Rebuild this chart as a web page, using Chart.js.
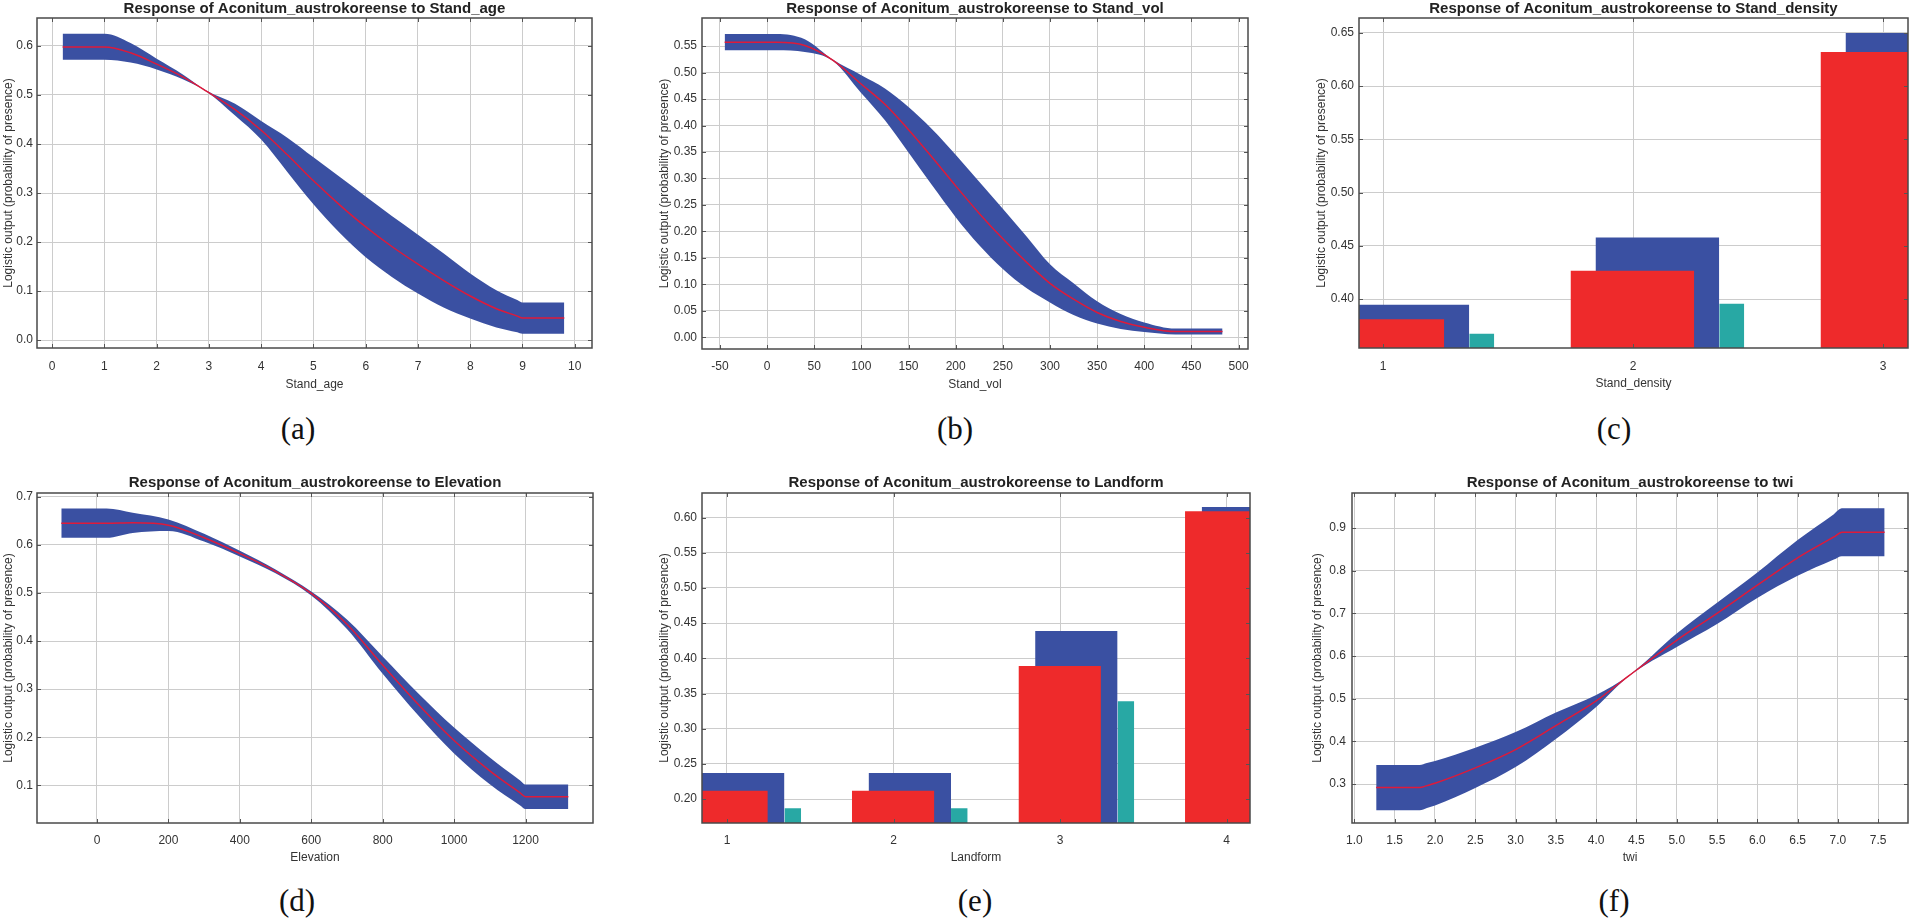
<!DOCTYPE html>
<html>
<head>
<meta charset="utf-8">
<script src="https://cdn.jsdelivr.net/npm/chart.js@4.4.1/dist/chart.umd.min.js"></script>
<style>
  html, body { margin: 0; padding: 0; background: #fff; }
  body { width: 1911px; height: 923px; position: relative; overflow: hidden; }
  canvas { position: absolute; }
  .lab { position: absolute; font-family: "Liberation Serif", "Times New Roman", serif; font-size: 31px; color: #111; transform: translate(-50%, -50%); line-height: 1; }
</style>
</head>
<body>
<canvas id="pa"></canvas>
<canvas id="pb"></canvas>
<canvas id="pc"></canvas>
<canvas id="pd"></canvas>
<canvas id="pe"></canvas>
<canvas id="pf"></canvas>
<div class="lab" style="left:298px;top:428px">(a)</div>
<div class="lab" style="left:955px;top:428px">(b)</div>
<div class="lab" style="left:1614px;top:428px">(c)</div>
<div class="lab" style="left:297px;top:900px">(d)</div>
<div class="lab" style="left:975px;top:900px">(e)</div>
<div class="lab" style="left:1614px;top:900px">(f)</div>
<script>
// (a) Stand_age
const ageX    = [0.2, 1.0, 1.5, 2.0, 2.5, 2.95, 3.5, 4.0, 4.5, 5.0, 5.5, 6.0, 6.5, 7.0, 7.5, 8.0, 8.5, 8.9, 9.0, 9.8];
const ageMean = [0.598, 0.598, 0.586, 0.563, 0.537, 0.508, 0.470, 0.428, 0.378, 0.325, 0.276, 0.231, 0.191, 0.155, 0.121, 0.090, 0.064, 0.049, 0.045, 0.045];
const ageUp   = [0.625, 0.625, 0.606, 0.574, 0.542, 0.509, 0.482, 0.447, 0.413, 0.373, 0.333, 0.293, 0.253, 0.215, 0.176, 0.136, 0.102, 0.082, 0.077, 0.077];
const ageLow  = [0.572, 0.572, 0.566, 0.552, 0.532, 0.507, 0.458, 0.409, 0.343, 0.277, 0.219, 0.169, 0.129, 0.095, 0.066, 0.044, 0.026, 0.016, 0.013, 0.013];
const ageTicksX = [0, 1, 2, 3, 4, 5, 6, 7, 8, 9, 10];
const ageTicksY = [0.0, 0.1, 0.2, 0.3, 0.4, 0.5, 0.6];

// (b) Stand_vol
const volX    = [-45, 10, 40, 70, 100, 125, 150, 175, 200, 225, 250, 275, 300, 325, 350, 375, 400, 433, 483];
const volMean = [0.557, 0.557, 0.551, 0.523, 0.478, 0.440, 0.392, 0.340, 0.286, 0.234, 0.186, 0.142, 0.102, 0.072, 0.047, 0.030, 0.019, 0.011, 0.011];
const volUp   = [0.573, 0.573, 0.563, 0.524, 0.495, 0.470, 0.435, 0.393, 0.345, 0.294, 0.243, 0.191, 0.138, 0.102, 0.068, 0.044, 0.028, 0.0165, 0.0165];
const volLow  = [0.542, 0.542, 0.539, 0.522, 0.461, 0.410, 0.349, 0.287, 0.227, 0.174, 0.129, 0.093, 0.066, 0.042, 0.026, 0.016, 0.010, 0.0055, 0.0055];
const volTicksX = [-50, 0, 50, 100, 150, 200, 250, 300, 350, 400, 450, 500];
const volTicksY = [0.00, 0.05, 0.10, 0.15, 0.20, 0.25, 0.30, 0.35, 0.40, 0.45, 0.50, 0.55];

// (c) Stand_density
const densityCats = [1, 2, 3];
const densityMean = [0.381, 0.4266, 0.632];
const densityUp   = [0.3947, 0.4578, 0.650];
const densityLow  = [0.3673, 0.3956, 0.614];
const densityTicksY = [0.40, 0.45, 0.50, 0.55, 0.60, 0.65];

// (d) Elevation
const elevX    = [-100, 27, 100, 200, 300, 400, 500, 600, 700, 800, 900, 1000, 1100, 1185, 1200, 1320];
const elevMean = [0.645, 0.645, 0.646, 0.641, 0.615, 0.582, 0.545, 0.499, 0.435, 0.350, 0.268, 0.193, 0.130, 0.084, 0.076, 0.076];
const elevUp   = [0.676, 0.676, 0.667, 0.653, 0.623, 0.588, 0.549, 0.503, 0.445, 0.368, 0.291, 0.220, 0.158, 0.110, 0.1015, 0.1015];
const elevLow  = [0.615, 0.615, 0.625, 0.629, 0.607, 0.576, 0.541, 0.495, 0.425, 0.332, 0.245, 0.166, 0.102, 0.058, 0.0505, 0.0505];
const elevTicksX = [0, 200, 400, 600, 800, 1000, 1200];
const elevTicksY = [0.1, 0.2, 0.3, 0.4, 0.5, 0.6, 0.7];

// (e) Landform
const landCats = [1, 2, 3, 4];
const landMean = [0.212, 0.212, 0.389, 0.609];
const landUp   = [0.237, 0.237, 0.439, 0.615];
const landLow  = [0.187, 0.187, 0.339, 0.603];
const landTicksY = [0.20, 0.25, 0.30, 0.35, 0.40, 0.45, 0.50, 0.55, 0.60];

// (f) twi
const twiX    = [1.27, 1.81, 1.9, 2.0, 2.5, 3.0, 3.5, 4.0, 4.4, 5.0, 5.5, 6.0, 6.5, 6.95, 7.05, 7.58];
const twiMean = [0.292, 0.292, 0.2965, 0.302, 0.338, 0.381, 0.437, 0.495, 0.553, 0.637, 0.700, 0.766, 0.830, 0.879, 0.890, 0.890];
const twiUp   = [0.345, 0.345, 0.3495, 0.354, 0.385, 0.422, 0.468, 0.509, 0.554, 0.653, 0.725, 0.796, 0.872, 0.9325, 0.946, 0.946];
const twiLow  = [0.239, 0.239, 0.2442, 0.250, 0.291, 0.340, 0.406, 0.481, 0.552, 0.621, 0.675, 0.736, 0.788, 0.826, 0.834, 0.834];
const twiTicksX = [1.0, 1.5, 2.0, 2.5, 3.0, 3.5, 4.0, 4.5, 5.0, 5.5, 6.0, 6.5, 7.0, 7.5];
const twiTicksY = [0.3, 0.4, 0.5, 0.6, 0.7, 0.8, 0.9];

const BLUE = 'rgb(58,80,162)';
const RED_LINE = 'rgb(222,26,58)';
const RED_BAR = 'rgb(238,42,43)';
const TEAL = 'rgb(40,168,164)';
const YTITLE = 'Logistic output (probability of presence)';
const SPECIES = 'Response of Aconitum_austrokoreense to ';

Chart.defaults.font.family = '"Liberation Sans", Arial, sans-serif';
Chart.defaults.color = '#333';

// frame round the plot plus short inward tick marks on every side
const framePlugin = {
  id: 'frame',
  afterDatasetsDraw(chart) {
    const {ctx, chartArea: a, scales} = chart;
    ctx.save();
    ctx.strokeStyle = '#555';
    ctx.lineWidth = 1;
    ctx.beginPath();
    scales.x.ticks.forEach((t, i) => {
      const px = Math.round(scales.x.getPixelForTick(i)) + 0.5;
      ctx.moveTo(px, a.bottom); ctx.lineTo(px, a.bottom - 4);
      ctx.moveTo(px, a.top); ctx.lineTo(px, a.top + 4);
    });
    scales.y.ticks.forEach((t, i) => {
      const py = Math.round(scales.y.getPixelForTick(i)) + 0.5;
      ctx.moveTo(a.left, py); ctx.lineTo(a.left + 4, py);
      ctx.moveTo(a.right, py); ctx.lineTo(a.right - 4, py);
    });
    ctx.stroke();
    ctx.strokeStyle = '#4a4a4a';
    ctx.lineWidth = 1.5;
    ctx.strokeRect(a.left, a.top, a.right - a.left, a.bottom - a.top);
    ctx.restore();
  }
};

function bandSets(xs, mean, up, low) {
  const pts = arr => xs.map((x, i) => ({x: x, y: arr[i]}));
  return [
    {data: pts(mean), borderColor: RED_LINE, borderWidth: 1.5, pointRadius: 0, fill: false, cubicInterpolationMode: 'monotone', order: 0},
    {data: pts(up), borderWidth: 0, borderColor: 'rgba(0,0,0,0)', backgroundColor: BLUE, pointRadius: 0, fill: '+1', cubicInterpolationMode: 'monotone', order: 1},
    {data: pts(low), borderWidth: 0, borderColor: 'rgba(0,0,0,0)', pointRadius: 0, fill: false, cubicInterpolationMode: 'monotone', order: 2}
  ];
}

// each bar is a flat two-point line filled down to the axis start
function barSets(cats, vals, from, to, color, order) {
  return cats.map((c, i) => ({
    data: [{x: c + from, y: vals[i]}, {x: c + to, y: vals[i]}],
    borderWidth: 0, borderColor: 'rgba(0,0,0,0)', backgroundColor: color,
    pointRadius: 0, fill: 'start', order: order
  }));
}

function catSets(cats, mean, up, low) {
  return [].concat(
    barSets(cats, mean, -0.25, 0.245, RED_BAR, 0),
    barSets(cats, up, -0.15, 0.345, BLUE, 1),
    barSets(cats, low, 0.345, 0.445, TEAL, 2)
  );
}

function makeChart(id, p) {
  const cv = document.getElementById(id);
  cv.width = p.box.w; cv.height = p.box.h;
  cv.style.left = p.box.x + 'px'; cv.style.top = p.box.y + 'px';
  const axisBottom = p.box.y + p.box.h;
  new Chart(cv, {
    type: 'line',
    data: {datasets: p.datasets},
    plugins: [framePlugin],
    options: {
      responsive: false,
      animation: false,
      events: [],
      layout: {padding: {left: 0, top: 0, bottom: 0, right: p.box.x + p.box.w - p.area.r}},
      plugins: {
        legend: {display: false},
        tooltip: {enabled: false},
        title: {
          display: true, fullSize: false, text: SPECIES + p.name, color: '#222',
          font: {size: 15, weight: 'bold'},
          padding: {top: 0, bottom: Math.max(0, p.area.t - p.box.y - 18)}
        }
      },
      scales: {
        x: {
          type: 'linear', min: p.xRange[0], max: p.xRange[1],
          afterBuildTicks: s => { s.ticks = p.xTicks.map(v => ({value: v})); },
          afterFit: s => { s.height = axisBottom - p.area.b; s.paddingLeft = 0; s.paddingRight = 0; },
          ticks: {callback: p.xFmt, padding: p.xTickPad, autoSkip: false, maxRotation: 0, minRotation: 0, font: {size: 12}, color: '#333'},
          grid: {color: '#cccccc', lineWidth: 1, drawTicks: false},
          border: {display: false},
          title: {display: true, text: p.name, font: {size: 12}, color: '#333', padding: {top: 0, bottom: axisBottom - p.xTitleY - 7.2}}
        },
        y: {
          type: 'linear', min: p.yRange[0], max: p.yRange[1],
          afterBuildTicks: s => { s.ticks = p.yTicks.map(v => ({value: v})); },
          afterFit: s => { s.width = p.area.l - p.box.x; s.paddingTop = 0; s.paddingBottom = 0; },
          ticks: {callback: p.yFmt, padding: p.yTickPad, autoSkip: false, font: {size: 12}, color: '#333'},
          grid: {color: '#cccccc', lineWidth: 1, drawTicks: false},
          border: {display: false},
          title: {display: true, text: YTITLE, font: {size: 12}, color: '#333', padding: {top: p.yTitleX - p.box.x - 7.2, bottom: 0}}
        }
      }
    }
  });
}

const f0 = v => String(Math.round(v));
const f1 = v => v.toFixed(1);
const f2 = v => v.toFixed(2);

makeChart('pa', {
  name: 'Stand_age', box: {x: 0, y: 0, w: 600, h: 400}, area: {l: 37, r: 592, t: 18, b: 348},
  xRange: [-0.29, 10.33], yRange: [-0.016, 0.657], xTicks: ageTicksX, yTicks: ageTicksY,
  xFmt: f0, yFmt: f1, xTickPad: 11, yTickPad: 4, xTitleY: 385, yTitleX: 9,
  datasets: bandSets(ageX, ageMean, ageUp, ageLow)
});
makeChart('pb', {
  name: 'Stand_vol', box: {x: 640, y: 0, w: 620, h: 400}, area: {l: 702, r: 1248, t: 18, b: 349},
  xRange: [-69, 510], yRange: [-0.022, 0.603], xTicks: volTicksX, yTicks: volTicksY,
  xFmt: f0, yFmt: f2, xTickPad: 10, yTickPad: 5, xTitleY: 385, yTitleX: 665,
  datasets: bandSets(volX, volMean, volUp, volLow)
});
makeChart('pc', {
  name: 'Stand_density', box: {x: 1290, y: 0, w: 621, h: 400}, area: {l: 1359, r: 1908, t: 18, b: 348},
  xRange: [0.904, 3.1], yRange: [0.354, 0.664], xTicks: densityCats, yTicks: densityTicksY,
  xFmt: f0, yFmt: f2, xTickPad: 11, yTickPad: 5, xTitleY: 384, yTitleX: 1322,
  datasets: catSets(densityCats, densityMean, densityUp, densityLow)
});
makeChart('pd', {
  name: 'Elevation', box: {x: 0, y: 474, w: 600, h: 399}, area: {l: 37, r: 593, t: 493, b: 823},
  xRange: [-168, 1389], yRange: [0.0215, 0.708], xTicks: elevTicksX, yTicks: elevTicksY,
  xFmt: f0, yFmt: f1, xTickPad: 10, yTickPad: 4, xTitleY: 858, yTitleX: 9,
  datasets: bandSets(elevX, elevMean, elevUp, elevLow)
});
makeChart('pe', {
  name: 'Landform', box: {x: 640, y: 474, w: 620, h: 399}, area: {l: 702, r: 1250, t: 493, b: 823},
  xRange: [0.85, 4.14], yRange: [0.166, 0.635], xTicks: landCats, yTicks: landTicksY,
  xFmt: f0, yFmt: f2, xTickPad: 10, yTickPad: 5, xTitleY: 858, yTitleX: 665,
  datasets: catSets(landCats, landMean, landUp, landLow)
});
makeChart('pf', {
  name: 'twi', box: {x: 1290, y: 474, w: 621, h: 399}, area: {l: 1352, r: 1908, t: 493, b: 823},
  xRange: [0.97, 7.87], yRange: [0.209, 0.982], xTicks: twiTicksX, yTicks: twiTicksY,
  xFmt: f1, yFmt: f1, xTickPad: 10, yTickPad: 6, xTitleY: 858, yTitleX: 1318,
  datasets: bandSets(twiX, twiMean, twiUp, twiLow)
});
</script>
</body>
</html>
